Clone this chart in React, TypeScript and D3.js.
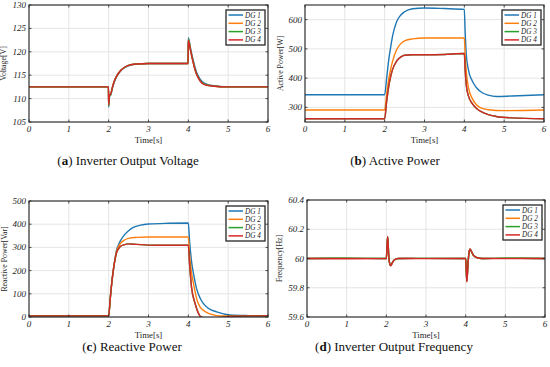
import React from 'react'
import * as d3 from 'd3'

const SERIES_NAMES = ['DG 1', 'DG 2', 'DG 3', 'DG 4']
const COLORS = ['#1f77b4', '#ff7f0e', '#2ca02c', '#d62728']
const X_TICKS = [0, 1, 2, 3, 4, 5, 6]

// (a) inverter output voltage [t, V]
const voltDG1 = [[0, 112.5], [1, 112.5], [1.995, 112.5], [2.0, 108.2], [2.02, 110.4], [2.05, 110.7], [2.1, 112.4], [2.15, 113.7], [2.2, 114.7], [2.3, 115.9], [2.4, 116.6], [2.5, 117.0], [2.7, 117.4], [3, 117.5], [3.995, 117.5], [4.0, 123.0], [4.05, 121.0], [4.1, 119.0], [4.2, 115.8], [4.3, 114.1], [4.4, 113.3], [4.6, 112.8], [5, 112.5], [6, 112.5]]
const voltDG2 = [[0, 112.5], [1, 112.5], [1.995, 112.5], [2.0, 108.5], [2.02, 110.6], [2.05, 110.9], [2.1, 112.6], [2.15, 113.9], [2.2, 114.8], [2.3, 116.0], [2.4, 116.7], [2.5, 117.1], [2.7, 117.4], [3, 117.5], [3.995, 117.5], [4.0, 122.7], [4.05, 120.6], [4.1, 118.6], [4.2, 115.4], [4.3, 113.8], [4.4, 113.1], [4.6, 112.7], [5, 112.5], [6, 112.5]]
const voltDG3 = voltDG2
const voltDG4 = [[0, 112.5], [1, 112.5], [1.995, 112.5], [2.0, 108.7], [2.02, 110.7], [2.05, 111.0], [2.1, 112.6], [2.15, 113.9], [2.2, 114.8], [2.3, 116.0], [2.4, 116.7], [2.5, 117.1], [2.7, 117.4], [3, 117.5], [3.995, 117.5], [4.0, 122.5], [4.05, 120.5], [4.1, 118.5], [4.2, 115.3], [4.3, 113.7], [4.4, 113.0], [4.6, 112.7], [5, 112.5], [6, 112.5]]

// (b) active power [t, W]
const actDG1 = [[0, 343], [2.0, 343], [2.05, 400], [2.1, 460], [2.15, 505], [2.2, 545], [2.3, 593], [2.4, 615], [2.5, 627], [2.7, 637], [3, 640], [3.5, 638], [4.0, 635], [4.02, 560], [4.05, 480], [4.1, 430], [4.2, 390], [4.3, 368], [4.45, 350], [4.6, 342], [4.8, 337], [5.2, 339], [6, 343]]
const actDG2 = [[0, 291], [2.0, 291], [2.05, 345], [2.1, 395], [2.15, 430], [2.2, 458], [2.3, 497], [2.4, 517], [2.5, 527], [2.7, 534], [3, 537], [3.5, 537], [4.0, 537], [4.02, 480], [4.05, 420], [4.1, 370], [4.2, 330], [4.3, 310], [4.4, 299], [4.6, 292], [5, 289], [6, 291]]
const actDG3 = [[0, 261], [2.0, 261], [2.05, 320], [2.1, 370], [2.15, 405], [2.2, 430], [2.3, 458], [2.4, 472], [2.5, 478], [2.7, 480], [3, 480], [3.5, 481], [4.0, 484], [4.02, 430], [4.05, 375], [4.1, 340], [4.2, 313], [4.3, 297], [4.4, 287], [4.6, 275], [4.8, 269], [5.2, 264], [6, 261]]
const actDG4 = actDG3

// (c) reactive power [t, Var]
const reactDG1 = [[0, 5], [2.0, 5], [2.04, 80], [2.08, 150], [2.12, 205], [2.16, 252], [2.2, 290], [2.25, 312], [2.3, 330], [2.4, 355], [2.5, 372], [2.62, 386], [2.8, 396], [3, 401], [3.5, 404], [4.0, 405], [4.03, 330], [4.08, 240], [4.13, 187], [4.21, 120], [4.3, 80], [4.38, 58], [4.5, 38], [4.71, 22], [5.05, 9], [5.5, 6], [6, 5]]
const reactDG2 = [[0, 5], [2.0, 5], [2.04, 80], [2.08, 150], [2.12, 205], [2.16, 250], [2.2, 285], [2.25, 305], [2.3, 318], [2.4, 332], [2.5, 339], [2.7, 343], [3, 345], [4.0, 345], [4.03, 270], [4.08, 190], [4.13, 144], [4.22, 72], [4.3, 42], [4.46, 20], [4.6, 10], [4.8, 4], [5.3, 5], [6, 5]]
const reactDG3 = [[0, 5], [2.0, 5], [2.04, 80], [2.08, 150], [2.12, 205], [2.16, 248], [2.2, 278], [2.25, 295], [2.3, 305], [2.4, 312], [2.5, 315], [2.7, 313], [3, 310], [3.5, 309], [4.0, 309], [4.03, 230], [4.08, 129], [4.17, 58], [4.29, 5], [4.35, -2], [4.5, -6], [4.8, -3], [5.1, 3], [5.5, 5], [6, 5]]
const reactDG4 = reactDG3

// (d) inverter output frequency [t, Hz]
const freqDG1 = [[0, 60], [1, 60.002], [2.0, 60], [2.02, 60.1], [2.035, 60.145], [2.06, 60.02], [2.09, 59.96], [2.11, 59.952], [2.15, 59.97], [2.2, 59.99], [2.3, 60], [3, 60.001], [4.0, 60], [4.015, 59.92], [4.03, 59.845], [4.06, 59.97], [4.09, 60.05], [4.11, 60.063], [4.15, 60.045], [4.2, 60.02], [4.3, 60.005], [4.4, 60], [5, 60.002], [6, 60]]
const freqDG2 = freqDG1
const freqDG3 = freqDG1
const freqDG4 = [[0, 60], [1, 59.998], [2.0, 60], [2.02, 60.1], [2.035, 60.15], [2.06, 60.02], [2.09, 59.96], [2.11, 59.95], [2.15, 59.97], [2.2, 59.99], [2.3, 60], [3, 59.999], [4.0, 60], [4.015, 59.92], [4.03, 59.84], [4.06, 59.97], [4.09, 60.05], [4.11, 60.065], [4.15, 60.045], [4.2, 60.02], [4.3, 60.005], [4.4, 60], [5, 59.999], [6, 60]]

const VOLT_TICKS = [105, 110, 115, 120, 125, 130]
const ACT_TICKS = [300, 400, 500, 600]
const REACT_TICKS = [0, 100, 200, 300, 400, 500]
const FREQ_TICKS = [59.6, 59.8, 60, 60.2, 60.4]

const SERIF = 'Liberation Serif, serif'

type Pt = number[]

function Panel({ id, left, top, right, bottom, yDomain, yTicks, yLabel, yLabelOffset, series }: any) {
  const x = d3.scaleLinear().domain([0, 6]).range([left, right])
  const y = d3.scaleLinear().domain(yDomain).range([bottom, top])
  const line = d3
    .line<Pt>()
    .x(d => x(d[0]))
    .y(d => y(d[1]))
    .curve(d3.curveMonotoneX)
  const fmt = (v: number) => String(+v.toFixed(1))
  const lx = right - 3 - 39
  const ly = top + 5
  const tickStyle = { fontFamily: SERIF, fontStyle: 'italic', fontSize: 9 }

  return (
    <g>
      <defs>
        <clipPath id={id}>
          <rect x={left} y={top} width={right - left} height={bottom - top} />
        </clipPath>
      </defs>
      <rect x={left} y={top} width={right - left} height={bottom - top} fill="#fff" />
      {X_TICKS.map(t => (
        <line key={'gx' + t} x1={x(t)} x2={x(t)} y1={top} y2={bottom} stroke="#dedede" strokeWidth={0.8} />
      ))}
      {yTicks.map((t: number) => (
        <line key={'gy' + t} x1={left} x2={right} y1={y(t)} y2={y(t)} stroke="#dedede" strokeWidth={0.8} />
      ))}
      <g clipPath={`url(#${id})`}>
        {series.map((s: Pt[], i: number) => (
          <path key={i} d={line(s) || ''} fill="none" stroke={COLORS[i]} strokeWidth={1.4} />
        ))}
      </g>
      {X_TICKS.map(t => (
        <g key={'tx' + t}>
          <line x1={x(t)} x2={x(t)} y1={bottom} y2={bottom - 2.5} stroke="#262626" strokeWidth={0.8} />
          <line x1={x(t)} x2={x(t)} y1={top} y2={top + 2.5} stroke="#262626" strokeWidth={0.8} />
          <text x={x(t)} y={bottom + 10} textAnchor="middle" fill="#262626" style={tickStyle}>
            {t}
          </text>
        </g>
      ))}
      {yTicks.map((t: number) => (
        <g key={'ty' + t}>
          <line x1={left} x2={left + 2.5} y1={y(t)} y2={y(t)} stroke="#262626" strokeWidth={0.8} />
          <line x1={right} x2={right - 2.5} y1={y(t)} y2={y(t)} stroke="#262626" strokeWidth={0.8} />
          <text x={left - 3} y={y(t) + 3} textAnchor="end" fill="#262626" style={tickStyle}>
            {fmt(t)}
          </text>
        </g>
      ))}
      <rect x={left} y={top} width={right - left} height={bottom - top} fill="none" stroke="#262626" strokeWidth={1.1} />
      <text x={(left + right) / 2} y={bottom + 21} textAnchor="middle" fill="#262626" style={{ fontFamily: SERIF, fontSize: 8.8 }}>
        Time[s]
      </text>
      <text
        transform={`translate(${left - yLabelOffset},${(top + bottom) / 2}) rotate(-90)`}
        textAnchor="middle"
        fill="#262626"
        style={{ fontFamily: SERIF, fontSize: 7.8 }}
      >
        {yLabel}
      </text>
      <g>
        <rect x={lx} y={ly} width={39} height={35} fill="#fff" stroke="#262626" strokeWidth={1.3} />
        {SERIES_NAMES.map((n, i) => (
          <g key={n}>
            <line x1={lx + 2.5} x2={lx + 17} y1={ly + 5 + i * 8.3} y2={ly + 5 + i * 8.3} stroke={COLORS[i]} strokeWidth={1.5} />
            <text x={lx + 19} y={ly + 7.5 + i * 8.3} fill="#262626" style={{ fontFamily: SERIF, fontStyle: 'italic', fontSize: 7.2 }}>
              {n}
            </text>
          </g>
        ))}
      </g>
    </g>
  )
}

function Caption({ x, y, letter, text }: any) {
  return (
    <text x={x} y={y} textAnchor="middle" fill="#111" style={{ fontFamily: SERIF, fontSize: 13 }}>
      (<tspan fontWeight="bold">{letter}</tspan>) {text}
    </text>
  )
}

export default function App() {
  return (
    <svg width={550} height={367} style={{ position: 'absolute', left: 0, top: 0, background: '#fff' }}>
      <Panel
        id="clipA"
        left={29}
        top={5}
        right={268}
        bottom={122}
        yDomain={[105, 130]}
        yTicks={VOLT_TICKS}
        yLabel="Voltage[V]"
        yLabelOffset={23}
        series={[voltDG1, voltDG2, voltDG3, voltDG4]}
      />
      <Panel
        id="clipB"
        left={305}
        top={5}
        right={544}
        bottom={122}
        yDomain={[250, 650]}
        yTicks={ACT_TICKS}
        yLabel="Active Power[W]"
        yLabelOffset={22}
        series={[actDG1, actDG2, actDG3, actDG4]}
      />
      <Panel
        id="clipC"
        left={29}
        top={201}
        right={268}
        bottom={317}
        yDomain={[0, 500]}
        yTicks={REACT_TICKS}
        yLabel="Reactive Power[Var]"
        yLabelOffset={22}
        series={[reactDG1, reactDG2, reactDG3, reactDG4]}
      />
      <Panel
        id="clipD"
        left={307}
        top={200}
        right={545}
        bottom={317}
        yDomain={[59.6, 60.4]}
        yTicks={FREQ_TICKS}
        yLabel="Frequency[Hz]"
        yLabelOffset={25}
        series={[freqDG1, freqDG2, freqDG3, freqDG4]}
      />
      <Caption x={128} y={165} letter="a" text="Inverter Output Voltage" />
      <Caption x={395} y={165} letter="b" text="Active Power" />
      <Caption x={132} y={351} letter="c" text="Reactive Power" />
      <Caption x={394} y={351} letter="d" text="Inverter Output Frequency" />
    </svg>
  )
}
